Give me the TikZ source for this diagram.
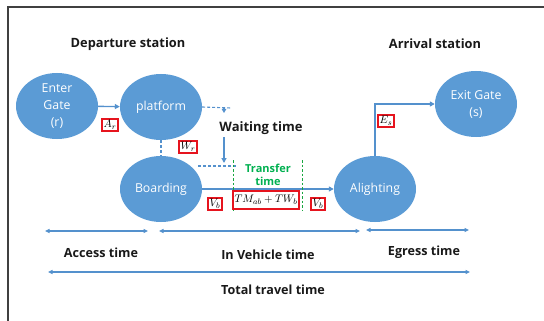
\documentclass[tikz,border=0pt]{standalone}
\usepackage{fontspec}
\setmainfont{Open Sans}
\usetikzlibrary{arrows.meta,shapes.geometric}
\definecolor{nodeblue}{RGB}{91,155,213}
\definecolor{lineblue}{RGB}{84,145,205}
\definecolor{tgreen}{RGB}{0,176,80}
\definecolor{boxred}{RGB}{230,20,30}
\tikzset{
  stn/.style={ellipse, fill=nodeblue, text=white, minimum width=82pt, minimum height=66pt,
    inner sep=0pt, align=center, font=\fontsize{12.3}{17}\selectfont},
  title/.style={font=\fontsize{12.8}{15}\selectfont\bfseries, text=black!90},
  span/.style={font=\fontsize{12.6}{15}\selectfont\bfseries, text=black!90},
  flow/.style={draw=lineblue, line width=1.4pt, -{Triangle[length=5pt,width=5pt]}},
  dashline/.style={draw=lineblue, line width=1.1pt, dash pattern=on 3pt off 2pt},
  gdash/.style={draw=tgreen!80!olive, line width=1pt, dash pattern=on 2.5pt off 2pt},
  dur/.style={draw=lineblue, line width=1.1pt, {Triangle[length=4.5pt,width=4pt]}-{Triangle[length=4.5pt,width=4pt]}},
  tag/.style={draw=boxred, line width=1.5pt, fill=white, inner sep=1.6pt, font=\fontsize{11}{12}\selectfont}
}
\begin{document}
\begin{tikzpicture}[x=1pt,y=-1pt]
\useasboundingbox (0,0) rectangle (544,321);
% frame edges
\draw[line width=1.2pt, black!75] (8,321) -- (8,7) -- (544,7);

% section titles
\node[title] (dep) at (128,44) {Departure station};
\node[title] (arr) at (435,44) {Arrival station};

% stations
\node[stn] (enter) at (57,106) {Enter\\Gate\\(r)};
\node[stn] (platform) at (161,107) {platform};
\node[stn] (boarding) at (161,189) {Boarding};
\node[stn] (alighting) at (375,189) {Alighting};
\node[stn] (exit) at (476,104) {Exit Gate\\(s)};

% flows
\draw[flow] (enter) -- (platform);
\draw[flow] (boarding) -- (alighting);
\draw[flow] (alighting) |- (exit);
\draw[dashline] (platform) -- (boarding);

% waiting time markers
\coordinate (wend) at (231,108);
\coordinate (wtip) at (224,108);
\coordinate (wtipb) at (224,113);
\coordinate (wa) at (224,137);
\coordinate (wb) at (224,163);
\coordinate (wl) at (198,166);
\coordinate (wr) at (237,166);
\draw[dashline] (platform.east) -- (wend);
\draw[draw=lineblue, line width=1.1pt, -{Triangle[length=4pt,width=4.5pt]}] (wtip) -- (wtipb);
\draw[draw=lineblue, line width=1.3pt, -{Triangle[length=5pt,width=5pt]}] (wa) -- (wb);
\draw[dashline] (wl) -- (wr);
\node[span, font=\fontsize{13}{15}\selectfont\bfseries] (wait) at (261,128) {Waiting time};

% transfer time markers
\coordinate (g1a) at (233,160);
\coordinate (g1b) at (233,210);
\coordinate (g2a) at (302,160);
\coordinate (g2b) at (302,210);
\draw[gdash] (g1a) -- (g1b);
\draw[gdash] (g2a) -- (g2b);
\node[text=tgreen, align=center, font=\fontsize{11}{12.5}\selectfont\bfseries] (transfer) at (268,175) {Transfer\\time};

% cost tags
\node[tag] (ar) at (110,125) {$A_r$};
\node[tag] (wrt) at (188,147) {$W_r$};
\node[tag] (vb1) at (215,204) {$V_b$};
\node[tag, minimum width=66pt, minimum height=18pt, inner sep=0pt] (tm) at (266,200) {$TM_{ab}+TW_b$};
\node[tag] (vb2) at (318,204) {$V_b$};
\node[tag] (es) at (386,121) {$E_s$};

% time spans
\coordinate (a1) at (45,231);  \coordinate (a2) at (148,231);
\coordinate (v1) at (159,231); \coordinate (v2) at (360,231);
\coordinate (e1) at (366,230); \coordinate (e2) at (469,230);
\coordinate (t1) at (48,272);  \coordinate (t2) at (470,272);
\draw[dur] (a1) -- (a2);
\draw[dur] (v1) -- (v2);
\draw[dur] (e1) -- (e2);
\draw[dur] (t1) -- (t2);
\node[span] (access) at (101,253) {Access time};
\node[span] (invehicle) at (268,255) {In Vehicle time};
\node[span] (egress) at (424,252) {Egress time};
\node[span] (total) at (273,290) {Total travel time};
\end{tikzpicture}
\end{document}
